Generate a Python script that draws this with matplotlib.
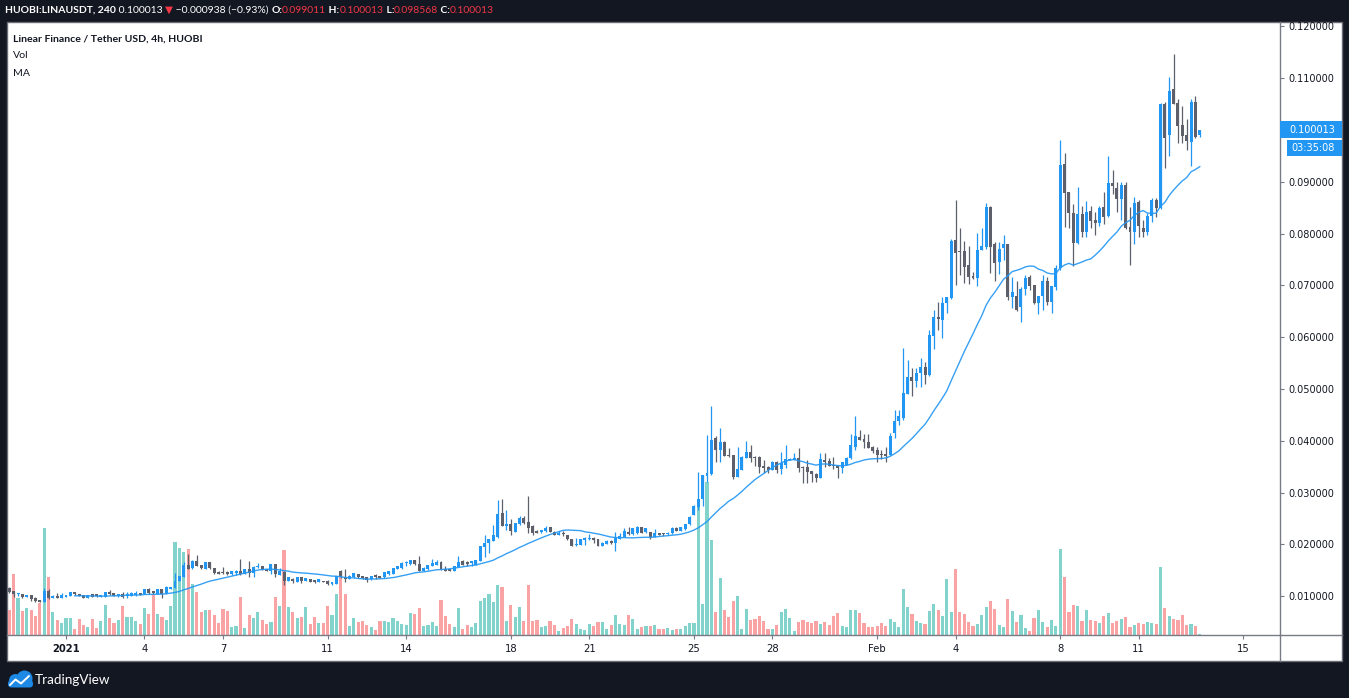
import numpy as np
import pandas as pd
import matplotlib
matplotlib.use('Agg')
import matplotlib.pyplot as plt
from matplotlib.patches import Rectangle, Circle, FancyBboxPatch

# ---------------- data (4h candles, HUOBI LINA/USDT) ----------------
opens = [
 0.01153,0.01100,0.01043,0.01043,0.00979,0.01018,0.00960,0.00928,0.00896,0.01102,
 0.00966,0.01005,0.00973,0.00992,0.01005,0.01076,0.01037,0.01018,0.00973,0.01037,
 0.01037,0.00992,0.00992,0.01089,0.01056,0.00998,0.01043,0.00998,0.01011,0.01018,
 0.01056,0.01043,0.01140,0.01102,0.01043,0.01140,0.01056,0.01146,0.01166,0.01294,
 0.01378,0.01603,0.01539,0.01687,0.01603,0.01526,0.01655,0.01539,0.01474,0.01474,
 0.01474,0.01423,0.01455,0.01487,0.01429,0.01526,0.01442,0.01558,0.01584,0.01519,
 0.01494,0.01623,0.01410,0.01474,0.01301,0.01339,0.01281,0.01365,0.01294,0.01333,
 0.01314,0.01275,0.01294,0.01301,0.01230,0.01237,0.01494,0.01365,0.01333,0.01365,
 0.01429,0.01391,0.01365,0.01326,0.01404,0.01391,0.01365,0.01423,0.01429,0.01526,
 0.01539,0.01635,0.01616,0.01699,0.01616,0.01487,0.01519,0.01590,0.01603,0.01667,
 0.01519,0.01519,0.01494,0.01571,0.01687,0.01668,0.01636,0.01604,0.01687,0.01944,
 0.02021,0.02073,0.02150,0.02600,0.02362,0.02394,0.02247,0.02388,0.02504,0.02426,
 0.02356,0.02266,0.02234,0.02253,0.02330,0.02247,0.02182,0.02214,0.02182,0.02105,
 0.01983,0.01989,0.02086,0.02098,0.02118,0.02105,0.01976,0.02009,0.02073,0.02021,
 0.02105,0.02150,0.02247,0.02195,0.02214,0.02330,0.02234,0.02234,0.02150,0.02214,
 0.02214,0.02195,0.02214,0.02324,0.02266,0.02292,0.02388,0.02568,0.02730,0.02878,
 0.03322,0.03360,0.04061,0.03823,0.03984,0.03727,0.03727,0.03309,0.03438,0.03675,
 0.03791,0.03695,0.03695,0.03515,0.03502,0.03438,0.03598,0.03457,0.03534,0.03630,
 0.03630,0.03675,0.03502,0.03502,0.03418,0.03367,0.03290,0.03630,0.03611,0.03534,
 0.03521,0.03483,0.03534,0.03663,0.03888,0.04074,0.04036,0.03971,0.03888,0.03823,
 0.03740,0.03740,0.03727,0.04148,0.04373,0.04437,0.04906,0.05241,0.05164,0.05305,
 0.05421,0.05273,0.06032,0.06386,0.06334,0.06656,0.06752,0.07877,0.07665,0.07665,
 0.07395,0.07183,0.07144,0.07684,0.07749,0.08520,0.07800,0.07459,0.07729,0.07800,
 0.06784,0.06797,0.06579,0.06926,0.07157,0.07003,0.06656,0.06797,0.07093,0.06688,
 0.06977,0.07331,0.09346,0.08799,0.08394,0.07815,0.08381,0.08040,0.08439,0.08265,
 0.08214,0.08510,0.08349,0.08973,0.08876,0.08670,0.08941,0.08137,0.08040,0.08606,
 0.08105,0.08040,0.08343,0.08651,0.08490,0.10503,0.09905,0.10792,0.10529,0.10098,
 0.09905,0.09776,0.10548,0.099011]

highs = [
 0.01185,0.01110,0.01070,0.01050,0.01030,0.01024,0.00992,0.00935,0.01153,0.01140,
 0.01018,0.01056,0.01070,0.01024,0.01089,0.01082,0.01043,0.01024,0.01024,0.01043,
 0.01043,0.01030,0.01089,0.01121,0.01063,0.01043,0.01082,0.01076,0.01076,0.01102,
 0.01063,0.01146,0.01153,0.01108,0.01146,0.01146,0.01191,0.01185,0.01442,0.01397,
 0.01667,0.01815,0.01693,0.01802,0.01610,0.01667,0.01661,0.01545,0.01481,0.01558,
 0.01481,0.01494,0.01506,0.01719,0.01532,0.01680,0.01578,0.01635,0.01590,0.01526,
 0.01629,0.01629,0.01539,0.01481,0.01371,0.01346,0.01371,0.01371,0.01358,0.01339,
 0.01320,0.01333,0.01301,0.01307,0.01281,0.01397,0.01506,0.01519,0.01404,0.01449,
 0.01436,0.01397,0.01371,0.01397,0.01429,0.01397,0.01468,0.01494,0.01545,0.01590,
 0.01655,0.01687,0.01706,0.01706,0.01776,0.01558,0.01610,0.01712,0.01699,0.01674,
 0.01584,0.01526,0.01590,0.01776,0.01693,0.01687,0.01687,0.01706,0.01976,0.02182,
 0.02105,0.02375,0.02857,0.02870,0.02664,0.02484,0.02414,0.02549,0.02549,0.02934,
 0.02375,0.02272,0.02285,0.02356,0.02336,0.02253,0.02266,0.02266,0.02189,0.02111,
 0.02118,0.02111,0.02150,0.02195,0.02150,0.02111,0.02040,0.02079,0.02079,0.02247,
 0.02227,0.02311,0.02330,0.02317,0.02362,0.02336,0.02317,0.02240,0.02291,0.02220,
 0.02220,0.02247,0.02330,0.02343,0.02336,0.02400,0.02542,0.02755,0.03405,0.03347,
 0.04113,0.04678,0.04100,0.04254,0.03990,0.03868,0.03733,0.03888,0.03701,0.03997,
 0.03920,0.03701,0.03701,0.03630,0.03508,0.03604,0.03604,0.03778,0.03920,0.03663,
 0.03759,0.03855,0.03508,0.03630,0.03425,0.03373,0.03759,0.03772,0.03663,0.03695,
 0.03527,0.03592,0.03695,0.04126,0.04479,0.04209,0.04126,0.04126,0.03894,0.03875,
 0.03823,0.03888,0.04158,0.04598,0.04598,0.05787,0.05562,0.05402,0.05402,0.05594,
 0.05530,0.06141,0.06527,0.06688,0.06784,0.06778,0.07890,0.08649,0.08102,0.07858,
 0.07762,0.07266,0.08006,0.08102,0.08585,0.08527,0.07845,0.07845,0.07974,0.07807,
 0.07157,0.07093,0.06977,0.07202,0.07202,0.07009,0.06803,0.07202,0.07170,0.06996,
 0.07395,0.09808,0.09552,0.08806,0.08567,0.08908,0.08542,0.08632,0.08542,0.08426,
 0.08542,0.08799,0.09500,0.09230,0.09005,0.09005,0.09005,0.08522,0.08715,0.08651,
 0.08265,0.08407,0.08683,0.08683,0.10516,0.10548,0.11030,0.11467,0.10593,0.10464,
 0.10214,0.10593,0.10657,0.100013]

lows = [
 0.01070,0.00979,0.01005,0.00970,0.00975,0.00915,0.00896,0.00880,0.00890,0.00941,
 0.00960,0.00966,0.00966,0.00985,0.01000,0.01030,0.01000,0.00966,0.00966,0.00985,
 0.00992,0.00985,0.00985,0.01030,0.01000,0.00992,0.00973,0.00973,0.01005,0.01011,
 0.01018,0.01037,0.01050,0.01050,0.01037,0.00973,0.01050,0.01140,0.01160,0.01288,
 0.01371,0.01526,0.01532,0.01578,0.01532,0.01520,0.01532,0.01436,0.01423,0.01436,
 0.01416,0.01410,0.01410,0.01410,0.01423,0.01365,0.01365,0.01552,0.01500,0.01487,
 0.01429,0.01365,0.01404,0.01224,0.01294,0.01262,0.01275,0.01262,0.01288,0.01275,
 0.01262,0.01269,0.01269,0.01224,0.01224,0.01230,0.01358,0.01281,0.01326,0.01358,
 0.01358,0.01339,0.01275,0.01320,0.01326,0.01346,0.01358,0.01416,0.01423,0.01519,
 0.01532,0.01590,0.01610,0.01610,0.01481,0.01481,0.01513,0.01584,0.01597,0.01513,
 0.01487,0.01487,0.01487,0.01565,0.01597,0.01584,0.01584,0.01597,0.01680,0.01764,
 0.01829,0.02066,0.02118,0.02349,0.02279,0.02182,0.02240,0.02381,0.02400,0.02227,
 0.02182,0.02220,0.02227,0.02247,0.02234,0.02176,0.02176,0.02163,0.02092,0.01970,
 0.01976,0.01983,0.01989,0.02092,0.02021,0.01970,0.01970,0.02002,0.02015,0.01880,
 0.02098,0.02143,0.02189,0.02189,0.02208,0.02220,0.02227,0.02098,0.02143,0.02182,
 0.02163,0.02189,0.02208,0.02259,0.02259,0.02285,0.02381,0.02561,0.02666,0.02749,
 0.03213,0.03347,0.03598,0.03598,0.03700,0.03695,0.03264,0.03302,0.03431,0.03669,
 0.03598,0.03521,0.03373,0.03373,0.03373,0.03431,0.03373,0.03360,0.03470,0.03624,
 0.03624,0.03405,0.03180,0.03180,0.03200,0.03200,0.03283,0.03502,0.03515,0.03457,
 0.03290,0.03373,0.03527,0.03656,0.03823,0.04010,0.03868,0.03862,0.03759,0.03598,
 0.03650,0.03598,0.03720,0.04051,0.04296,0.04405,0.04900,0.04874,0.05048,0.05048,
 0.05100,0.05254,0.05768,0.06141,0.05981,0.06476,0.06745,0.07009,0.07202,0.07041,
 0.07028,0.07131,0.06996,0.07678,0.07697,0.07247,0.07093,0.07215,0.07491,0.06720,
 0.06559,0.06514,0.06289,0.06816,0.06913,0.06650,0.06450,0.06527,0.06624,0.06476,
 0.06913,0.07300,0.08124,0.08105,0.07378,0.07808,0.07944,0.07944,0.08105,0.07976,
 0.08156,0.08182,0.08330,0.08767,0.08426,0.08265,0.08092,0.07385,0.07802,0.07944,
 0.07944,0.07976,0.08233,0.08330,0.08484,0.09262,0.09506,0.10497,0.09744,0.09744,
 0.09616,0.09313,0.09841,0.098568]

closes = [
 0.01089,0.01043,0.01043,0.00979,0.01024,0.00941,0.00915,0.00890,0.01108,0.00960,
 0.01005,0.00973,0.01018,0.01018,0.01082,0.01037,0.01005,0.00973,0.01018,0.00992,
 0.00998,0.01024,0.01082,0.01037,0.01005,0.01037,0.00992,0.01043,0.01070,0.01056,
 0.01024,0.01140,0.01056,0.01056,0.01140,0.01043,0.01185,0.01172,0.01301,0.01391,
 0.01603,0.01532,0.01687,0.01584,0.01539,0.01661,0.01539,0.01442,0.01429,0.01442,
 0.01423,0.01487,0.01487,0.01429,0.01526,0.01442,0.01571,0.01590,0.01506,0.01494,
 0.01623,0.01429,0.01494,0.01301,0.01365,0.01288,0.01365,0.01288,0.01352,0.01281,
 0.01269,0.01326,0.01275,0.01230,0.01275,0.01391,0.01365,0.01326,0.01397,0.01442,
 0.01365,0.01346,0.01314,0.01391,0.01365,0.01352,0.01461,0.01487,0.01539,0.01584,
 0.01648,0.01655,0.01699,0.01616,0.01487,0.01552,0.01603,0.01635,0.01667,0.01519,
 0.01494,0.01494,0.01584,0.01667,0.01603,0.01623,0.01681,0.01700,0.01970,0.02034,
 0.02098,0.02182,0.02587,0.02356,0.02394,0.02266,0.02407,0.02504,0.02407,0.02324,
 0.02214,0.02227,0.02279,0.02324,0.02240,0.02182,0.02227,0.02202,0.02098,0.01976,
 0.02002,0.02105,0.02118,0.02131,0.02086,0.01976,0.02034,0.02073,0.02021,0.02131,
 0.02163,0.02259,0.02195,0.02311,0.02343,0.02227,0.02311,0.02150,0.02227,0.02189,
 0.02195,0.02214,0.02324,0.02266,0.02330,0.02394,0.02536,0.02748,0.02878,0.03341,
 0.03373,0.04016,0.03823,0.03984,0.03707,0.03701,0.03309,0.03457,0.03695,0.03791,
 0.03675,0.03675,0.03502,0.03470,0.03438,0.03598,0.03438,0.03566,0.03643,0.03656,
 0.03675,0.03483,0.03483,0.03405,0.03354,0.03290,0.03650,0.03598,0.03521,0.03515,
 0.03483,0.03585,0.03675,0.03920,0.04093,0.04016,0.03971,0.03868,0.03804,0.03727,
 0.03727,0.03714,0.04093,0.04386,0.04483,0.04932,0.05228,0.05164,0.05318,0.05421,
 0.05273,0.06045,0.06386,0.06360,0.06656,0.06771,0.07864,0.07633,0.07646,0.07363,
 0.07170,0.07138,0.07684,0.07762,0.08520,0.07749,0.07440,0.07697,0.07800,0.06784,
 0.06874,0.06527,0.06932,0.07138,0.06990,0.06656,0.06797,0.07093,0.06688,0.06990,
 0.07331,0.09326,0.08793,0.08394,0.07815,0.08381,0.08040,0.08426,0.08246,0.08214,
 0.08503,0.08330,0.08973,0.08928,0.08670,0.08941,0.08117,0.08040,0.08587,0.08150,
 0.08040,0.08343,0.08651,0.08490,0.10503,0.09854,0.10754,0.10503,0.10085,0.09892,
 0.09796,0.10548,0.09873,0.100013]

volumes = [
 75,184,111,72,81,75,57,96,322,174,69,45,36,51,51,18,48,30,24,48,
 21,42,90,51,36,45,87,54,54,42,33,81,63,123,63,54,45,87,279,261,
 249,258,153,129,69,75,75,60,36,78,72,24,27,114,21,60,51,69,45,33,
 39,114,87,255,84,69,51,54,84,33,54,36,36,87,60,123,192,123,27,51,
 39,42,30,24,15,42,42,39,51,42,33,30,66,63,81,27,30,39,27,105,
 57,33,24,81,18,30,24,36,102,111,123,99,150,144,42,90,54,84,42,150,
 42,45,24,27,42,30,12,21,27,48,33,18,15,33,27,39,39,18,30,60,
 33,30,60,48,18,24,27,27,30,18,18,21,15,18,18,27,36,36,384,93,
 459,285,69,171,75,54,102,117,18,78,45,48,57,42,18,18,30,69,78,51,
 12,39,45,39,36,42,33,39,30,57,66,27,24,75,75,66,36,24,24,27,
 36,27,48,39,24,138,84,63,42,36,33,72,93,75,57,168,69,198,69,63,
 39,27,33,60,84,102,78,30,24,108,72,39,60,21,12,51,75,39,24,45,
 27,258,174,69,90,87,42,75,45,42,36,57,66,36,42,48,54,24,30,36,
 33,39,36,33,204,81,57,48,45,60,30,33,27,3]

time_tick_pos = [13, 31, 49, 73, 91, 115, 133, 157, 175, 199, 217, 241, 259, 283]
time_tick_labels = ['2021', '4', '7', '11', '14', '18', '21', '25', '28', 'Feb', '4', '8', '11', '15']
price_ticks = [0.01, 0.02, 0.03, 0.04, 0.05, 0.06, 0.07, 0.08, 0.09, 0.10, 0.11, 0.12]
ma_length = 20

# ---------------- figure ----------------
W, H = 1349, 698
BG = '#131722'
UP, DOWN = '#2196F3', '#5d606b'
VUP, VDOWN = '#82d3cb', '#f9a3a4'
GRID = '#787b86'
FONT = ['Lato', 'DejaVu Sans']

fig = plt.figure(figsize=(W / 100, H / 100), dpi=100, facecolor=BG)

def frac(x0, y0, x1, y1):
    return [x0 / W, 1 - y1 / H, (x1 - x0) / W, (y1 - y0) / H]

under = fig.add_axes([0, 0, 1, 1], zorder=0)
under.set_xlim(0, W); under.set_ylim(H, 0); under.axis('off')
under.add_patch(Rectangle((7, 22), 1335, 639, fc='white', ec='#6a6d78', lw=1.0))
under.plot([1280, 1342], [635, 635], color=GRID, lw=1.0)
under.plot([1280, 1280], [635, 661], color=GRID, lw=1.0)

axv = fig.add_axes(frac(7, 22, 1280, 635), zorder=1)
ax = fig.add_axes(frac(7, 22, 1280, 635), zorder=2, sharex=axv)
axv.patch.set_alpha(0); ax.patch.set_alpha(0)

o = np.array(opens); h = np.array(highs); l = np.array(lows); c = np.array(closes)
v = np.array(volumes, dtype=float)
x = np.arange(len(c))
up = c >= o

axv.bar(x, v, width=0.72, color=np.where(up, VUP, VDOWN), lw=0)
axv.set_ylim(0, v.max() * 613 / 153)
axv.axis('off')

col = np.where(up, UP, DOWN)
ax.vlines(x, l, h, colors=col, lw=0.9)
ax.bar(x, np.maximum(np.abs(c - o), 0.00012), bottom=np.minimum(o, c), width=0.68,
       color=col, lw=0)
ma = pd.Series(c).rolling(ma_length, min_periods=16).mean()
ax.plot(x, ma, color='#2196F3', lw=1.0, alpha=0.9)

ax.set_xlim(-0.53, 291.4)
ax.set_ylim(13 / 5180, 626 / 5180)

ax.set_xticks(time_tick_pos, time_tick_labels)
ax.tick_params(axis='x', length=3, width=0.8, color=GRID, labelsize=7.2,
               labelcolor='#131722', pad=3.5)
ax.get_xticklabels()[0].set_fontweight('bold')
ax.yaxis.tick_right()
ax.set_yticks(price_ticks, [f'{p:.6f}' for p in price_ticks])
ax.tick_params(axis='y', length=3, width=0.8, color=GRID, labelsize=7.0,
               labelcolor='#131722', pad=3)
for s in ('top', 'left'):
    ax.spines[s].set_visible(False)
for s in ('bottom', 'right'):
    ax.spines[s].set_color(GRID); ax.spines[s].set_linewidth(1.0)

# ---------------- overlay ----------------
ov = fig.add_axes([0, 0, 1, 1], zorder=3)
ov.set_xlim(0, W); ov.set_ylim(H, 0); ov.axis('off'); ov.patch.set_alpha(0)

# last price boxes
yi = H - ax.transData.transform((0, c[-1]))[1]
ov.add_patch(Rectangle((1280, yi - 8.5), 62, 17, fc='#2196F3', ec='none'))
ov.text(1289, yi + 0.5, f'{closes[-1]:.6f}', color='white', fontsize=7.0, va='center', ha='left')
ov.add_patch(Rectangle((1287, yi + 10), 55, 16.5, fc='#2196F3', ec='none'))
ov.text(1291, yi + 18.5, '03:35:08', color='white', fontsize=7.0, va='center', ha='left')

fig.canvas.draw()
r = fig.canvas.get_renderer()

def width_of(t):
    return t.get_window_extent(renderer=r).width

# header: fit the whole line to about the reference width
RED = '#f23645'
segs = [('HUOBI:LINAUSDT, 240', 'white', 'bold'), (' 0.100013 ', 'white', 'normal'),
        ('\u25bc', RED, 'normal'), (' \u22120.000938 (\u22120.93%) ', 'white', 'normal'),
        ('O:', 'white', 'bold'), ('0.099011', RED, 'normal'),
        (' H:', 'white', 'bold'), ('0.100013', RED, 'normal'),
        (' L:', 'white', 'bold'), ('0.098568', RED, 'normal'),
        (' C:', 'white', 'bold'), ('0.100013', RED, 'normal')]
hdr = [ov.text(0, 10.5, s, color=cc, fontweight=wt, fontsize=10, family=FONT,
               va='center', ha='left') for s, cc, wt in segs]
total = sum(width_of(t) for t in hdr)
hsize = 10 * 490 / total
xx = 5
for t in hdr:
    t.set_fontsize(hsize)
    t.set_x(xx)
    xx += width_of(t)

# legend
lg = ov.text(13, 39.5, 'Linear Finance / Tether USD, 4h, HUOBI', color=BG, fontsize=10,
             fontweight='bold', family=FONT, va='center', ha='left')
lsize = 10 * 190 / width_of(lg)
lg.set_fontsize(lsize)
ov.text(13, 56, 'Vol', color=BG, fontsize=lsize, family=FONT, va='center', ha='left')
ov.text(13, 73, 'MA', color=BG, fontsize=lsize, family=FONT, va='center', ha='left')

# TradingView logo
LB = '#1e88e5'
ov.add_patch(Circle((15.5, 680.5), 6.5, fc=LB, ec='none'))
ov.add_patch(Circle((24.5, 678.5), 8.0, fc=LB, ec='none'))
ov.add_patch(FancyBboxPatch((8, 680), 25, 7.5, boxstyle='round,pad=0,rounding_size=3.5',
                            fc=LB, ec='none'))
ov.plot([10, 15.5, 21, 29], [685, 679.5, 683.5, 676], color='white', lw=1.4,
        solid_capstyle='round', solid_joinstyle='round')
tv = ov.text(35, 680.5, 'TradingView', color='white', fontsize=10, family=FONT,
             va='center', ha='left')
tv.set_fontsize(10 * 75 / width_of(tv))

fig.savefig('out.png', dpi=100, facecolor=BG)
